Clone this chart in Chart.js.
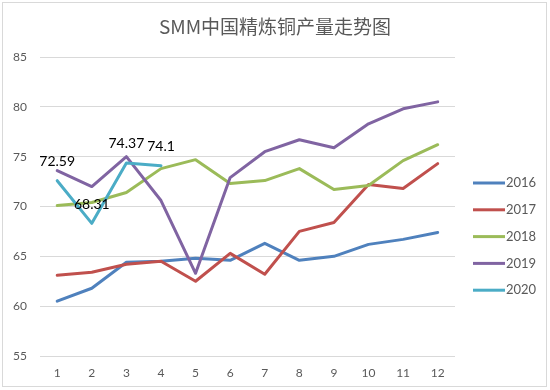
<!DOCTYPE html>
<html>
<head>
<meta charset="utf-8">
<script src="https://cdn.jsdelivr.net/npm/chart.js@4.4.1/dist/chart.umd.min.js"></script>
<style>
  html, body { margin: 0; padding: 0; background: #fff; }
</style>
</head>
<body>
<canvas id="myChart" width="550" height="390"></canvas>
<script>
// SMM China refined copper output, by month
const months = ["1", "2", "3", "4", "5", "6", "7", "8", "9", "10", "11", "12"];
const years = ["2016", "2017", "2018", "2019", "2020"];
const out2016 = [60.5, 61.8, 64.4, 64.5, 64.8, 64.6, 66.3, 64.6, 65.0, 66.2, 66.7, 67.4];
const out2017 = [63.1, 63.4, 64.2, 64.5, 62.5, 65.3, 63.2, 67.5, 68.4, 72.2, 71.8, 74.3];
const out2018 = [70.1, 70.4, 71.4, 73.8, 74.7, 72.3, 72.6, 73.8, 71.7, 72.1, 74.6, 76.2];
const out2019 = [73.6, 72.0, 75.0, 70.6, 63.3, 72.9, 75.5, 76.7, 75.9, 78.3, 79.8, 80.5];
const out2020 = [72.59, 68.31, 74.37, 74.1];
const yTicks = [55, 60, 65, 70, 75, 80, 85];

const title = "SMM中国精炼铜产量走势图";
const seriesData = [out2016, out2017, out2018, out2019, out2020];
const colors = ["#4F81BD", "#C0504D", "#9BBB59", "#8064A2", "#4BACC6"];
const labelled = "2020";

const extras = {
  id: "extras",
  afterDraw(chart) {
    const ctx = chart.ctx;
    ctx.save();
    // chart area frame
    ctx.strokeStyle = "#d9d9d9";
    ctx.lineWidth = 1;
    ctx.strokeRect(2.5, 2.5, 544, 384);

    // title, centred on the whole frame
    ctx.font = "19px 'Noto Sans CJK SC', 'Noto Sans', sans-serif";
    ctx.fillStyle = "#595959";
    ctx.textAlign = "center";
    ctx.textBaseline = "middle";
    ctx.fillText(title, 275, 27);

    // legend on the right
    ctx.font = "13px Lato";
    ctx.textAlign = "left";
    chart.data.datasets.forEach((ds, i) => {
      const y = 183 + i * 26.8;
      ctx.strokeStyle = ds.borderColor;
      ctx.lineWidth = 3;
      ctx.beginPath();
      ctx.moveTo(473, y);
      ctx.lineTo(505, y);
      ctx.stroke();
      ctx.fillStyle = "#595959";
      ctx.fillText(ds.label, 506, y);
    });

    // value labels on the 2020 line
    const idx = years.indexOf(labelled);
    const meta = chart.getDatasetMeta(idx);
    ctx.font = "14px Lato";
    ctx.fillStyle = "#000";
    ctx.textAlign = "center";
    meta.data.forEach((pt, j) => {
      const v = chart.data.datasets[idx].data[j];
      if (v == null) return;
      ctx.fillText(String(v), pt.x, pt.y - 19);
    });
    ctx.restore();
  }
};

new Chart(document.getElementById("myChart"), {
  type: "line",
  data: {
    labels: months,
    datasets: years.map((y, i) => ({
      label: y,
      data: seriesData[i],
      borderColor: colors[i],
      backgroundColor: colors[i],
      borderWidth: 3,
      pointRadius: 0,
      tension: 0,
      borderJoinStyle: "round",
      borderCapStyle: "round",
      order: years.length - i,
    })),
  },
  options: {
    responsive: false,
    animation: false,
    layout: {
      padding: { left: 0, right: 95, top: 57, bottom: 0 },
    },
    scales: {
      x: {
        offset: true,
        grid: { display: false, drawTicks: false },
        border: { display: false },
        ticks: {
          color: "#595959",
          padding: 11,
          maxRotation: 0,
          font: { size: 12, family: "Lato", lineHeight: 1 },
        },
      },
      y: {
        min: 55,
        max: 85,
        afterBuildTicks: (axis) => {
          axis.ticks = yTicks.map((v) => ({ value: v }));
        },
        grid: { color: "#d9d9d9", drawTicks: false },
        border: { display: false },
        ticks: {
          color: "#595959",
          padding: 13,
          font: { size: 12, family: "Lato" },
        },
      },
    },
    plugins: {
      legend: { display: false },
      tooltip: { enabled: false },
      title: { display: false },
    },
  },
  plugins: [extras],
});
</script>
</body>
</html>
